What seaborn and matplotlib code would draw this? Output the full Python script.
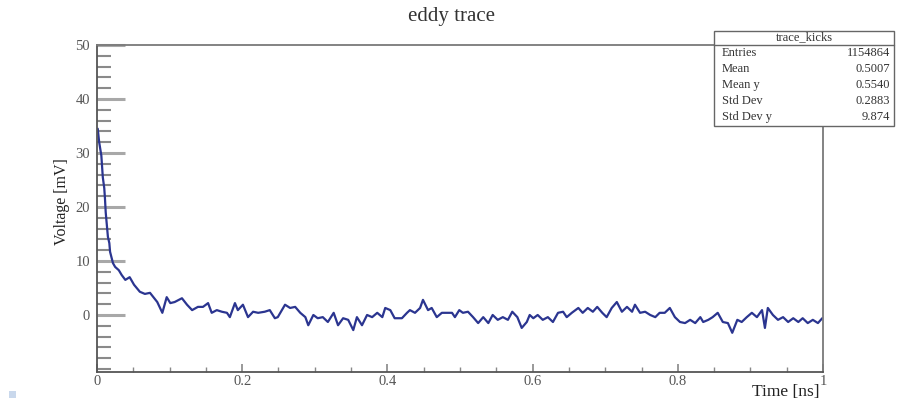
import matplotlib
matplotlib.use("Agg")
import matplotlib.pyplot as plt
import seaborn as sns
import pandas as pd
from matplotlib.ticker import MultipleLocator
from matplotlib.patches import Rectangle

# trace values (time in ns, voltage in mV)
time_ns = [
    0.001, 0.003, 0.006, 0.008, 0.010, 0.011, 0.012, 0.014, 0.015, 0.017,
    0.018, 0.022, 0.025, 0.030, 0.034, 0.039, 0.045, 0.051, 0.059, 0.066,
    0.073, 0.083, 0.090, 0.096, 0.101, 0.107, 0.117, 0.124, 0.131, 0.139,
    0.146, 0.153, 0.158, 0.165, 0.172, 0.179, 0.183, 0.190, 0.194, 0.201,
    0.208, 0.215, 0.222, 0.231, 0.238, 0.245, 0.249, 0.259, 0.266, 0.273,
    0.280, 0.287, 0.291, 0.298, 0.304, 0.311, 0.318, 0.326, 0.332, 0.339,
    0.346, 0.353, 0.358, 0.365, 0.372, 0.379, 0.386, 0.393, 0.397, 0.404,
    0.410, 0.420, 0.427, 0.431, 0.438, 0.445, 0.449, 0.456, 0.461, 0.468,
    0.475, 0.482, 0.489, 0.493, 0.499, 0.504, 0.511, 0.518, 0.525, 0.532,
    0.539, 0.545, 0.552, 0.559, 0.566, 0.572, 0.579, 0.585, 0.592, 0.596,
    0.601, 0.607, 0.614, 0.621, 0.628, 0.635, 0.642, 0.647, 0.654, 0.663,
    0.669, 0.676, 0.683, 0.689, 0.696, 0.702, 0.709, 0.716, 0.723, 0.730,
    0.737, 0.741, 0.748, 0.755, 0.762, 0.769, 0.775, 0.782, 0.789, 0.796,
    0.803, 0.810, 0.817, 0.824, 0.831, 0.835, 0.842, 0.848, 0.855, 0.862,
    0.869, 0.875, 0.882, 0.888, 0.895, 0.902, 0.909, 0.916, 0.920, 0.924,
    0.931, 0.938, 0.945, 0.952, 0.959, 0.966, 0.972, 0.979, 0.986, 0.993,
    0.999,
]
voltage_mv = [
    34.5, 32.0, 29.5, 25.5, 23.5, 21.5, 19.0, 16.0, 14.5, 13.3,
    11.7, 9.6, 8.9, 8.3, 7.4, 6.5, 7.0, 5.6, 4.3, 3.9,
    4.1, 2.4, 0.4, 3.3, 2.2, 2.4, 3.1, 1.9, 0.9, 1.5,
    1.5, 2.2, 0.4, 0.9, 0.6, 0.4, -0.4, 2.2, 0.9, 1.9,
    -0.4, 0.6, 0.4, 0.6, 0.9, -0.6, -0.4, 1.9, 1.3, 1.5,
    0.4, -0.4, -1.9, 0.0, -0.6, -0.4, -1.3, 0.4, -1.9, -0.6,
    -0.9, -2.8, -0.4, -1.9, 0.0, -0.4, 0.4, -0.4, 1.3, 0.9,
    -0.6, -0.6, 0.4, 0.9, 0.4, 1.3, 2.8, 0.9, 1.3, -0.4,
    0.4, 0.4, 0.4, -0.4, 0.9, 0.4, 0.6, -0.4, -1.5, -0.4,
    -1.5, 0.0, -0.9, -0.4, -0.9, 0.6, -0.4, -2.4, -1.3, 0.0,
    -0.6, 0.0, -0.9, -0.4, -1.3, 0.4, 0.6, -0.4, 0.4, 1.3,
    0.4, 1.3, 0.6, 1.5, 0.4, -0.4, 1.3, 2.4, 0.6, 1.5,
    0.6, 1.9, 0.4, 0.6, 0.0, -0.4, 0.4, 0.4, 1.3, -0.4,
    -1.3, -1.5, -0.9, -1.5, -0.4, -1.3, -0.9, -0.4, 0.4, -1.3,
    -1.5, -3.3, -0.9, -1.3, -0.4, 0.4, -0.4, 0.9, -2.4, 1.3,
    0.0, -0.9, -0.4, -1.3, -0.6, -1.3, -0.6, -1.5, -0.9, -1.5,
    -0.6,
]

x_ticks = [0, 0.2, 0.4, 0.6, 0.8, 1]
x_ticklabels = ["0", "0.2", "0.4", "0.6", "0.8", "1"]
y_ticks = [0, 10, 20, 30, 40, 50]

stat_names = ["Entries", "Mean", "Mean y", "Std Dev", "Std Dev y"]
stat_values = ["1154864", "0.5007", "0.5540", "0.2883", "9.874"]

df = pd.DataFrame({"time": time_ns, "voltage": voltage_mv})

sns.set_style("white")
plt.rcParams["font.family"] = ["Liberation Serif", "DejaVu Serif"]

fig = plt.figure(figsize=(9.04, 4.0), dpi=100)
ax = fig.add_axes([0.1073, 0.07, 0.8031, 0.8175])

sns.lineplot(data=df, x="time", y="voltage", ax=ax, color="#2b3590",
             linewidth=1.6, estimator=None)

ax.set_xlim(0, 1)
ax.set_ylim(-10.56, 50)
ax.set_xticks(x_ticks)
ax.set_xticklabels(x_ticklabels)
ax.set_yticks(y_ticks)
ax.set_yticklabels([str(v) for v in y_ticks])
ax.xaxis.set_minor_locator(MultipleLocator(0.05))
ax.yaxis.set_minor_locator(MultipleLocator(2))

ax.tick_params(axis="y", which="major", direction="in", length=20, width=2.2,
               color="#a8a8a8", pad=5, labelsize=10.5, labelcolor="#555555",
               left=True)
ax.tick_params(axis="y", which="minor", direction="in", length=10, width=1.5,
               color="#8a8a8a", left=True)
ax.tick_params(axis="x", which="major", direction="in", length=6, width=1.2,
               color="#888888", pad=2, labelsize=10.5, labelcolor="#555555",
               bottom=True)
ax.tick_params(axis="x", which="minor", direction="in", length=3.5, width=1.0,
               color="#888888", bottom=True)

for side, sp in ax.spines.items():
    sp.set_visible(True)
    sp.set_color("#7a7a7a")
    sp.set_linewidth(1.3)
ax.spines["left"].set_color("#555555")
ax.spines["bottom"].set_color("#555555")

ax.set_xlabel("")
ax.set_ylabel("")
fig.text(0.5, 0.958, "eddy trace", ha="center", va="center", fontsize=15,
         color="#333333")
fig.text(0.069, 0.495, "Voltage [mV]", rotation=90, ha="center", va="center",
         fontsize=11.5, color="#222222")
fig.text(0.906, 0.02, "Time [ns]", ha="right", va="center", fontsize=12.5,
         color="#222222")

# statistics box
bx0, bx1 = 714 / 904, 894 / 904
by_top, by_bot = 1 - 31 / 400, 1 - 126 / 400
fig.patches.append(Rectangle((bx0, by_bot), bx1 - bx0, by_top - by_bot,
                             transform=fig.transFigure, facecolor="white",
                             edgecolor="#666666", linewidth=1.0, zorder=5))
fig.add_artist(plt.Line2D([bx0, bx1], [1 - 45 / 400] * 2, color="#666666",
                          linewidth=1.0, zorder=6))
fig.text((bx0 + bx1) / 2, 1 - 37 / 400, "trace_kicks", ha="center", va="center",
         fontsize=9, color="#333333", zorder=7)
for i, (name, val) in enumerate(zip(stat_names, stat_values)):
    yy = 1 - (53 + 16 * i) / 400
    fig.text(bx0 + 8 / 904, yy, name, ha="left", va="center", fontsize=9,
             color="#333333", zorder=7)
    fig.text(bx1 - 4 / 904, yy, val, ha="right", va="center", fontsize=9,
             color="#333333", zorder=7)

# small marker bottom-left
fig.patches.append(Rectangle((9 / 904, 1 - 398 / 400), 7 / 904, 7 / 400,
                             transform=fig.transFigure, facecolor="#c9d8ec",
                             edgecolor="none"))

fig.savefig("out.png", dpi=100)
